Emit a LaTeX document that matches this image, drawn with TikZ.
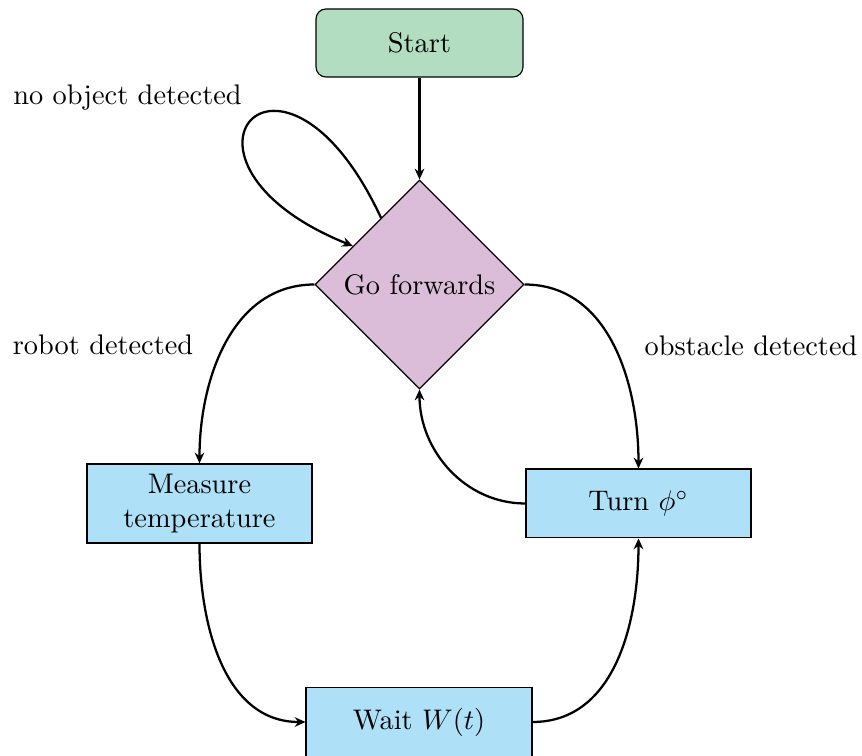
\documentclass[tikz,border=0pt]{standalone}
\usetikzlibrary{shapes.geometric,arrows.meta}
\definecolor{startgreen}{RGB}{179,221,193}
\definecolor{decpurple}{RGB}{220,189,217}
\definecolor{procblue}{RGB}{174,224,248}
\begin{document}
\begin{tikzpicture}[x=0.3528pt,y=0.3528pt,
  startbox/.style={draw=black,fill=startgreen,rounded corners=3.5pt,minimum width=73pt,minimum height=24pt,inner sep=0pt},
  decbox/.style={draw=black,fill=decpurple,diamond,minimum width=73.7pt,minimum height=73.7pt,inner sep=0pt},
  procbox/.style={draw=black,fill=procblue,minimum width=79.4pt,minimum height=24.3pt,inner sep=0pt,align=center},
  conn/.style={thick,-{Stealth[length=3.8pt,width=3.4pt]}},
  lbl/.style={inner sep=0pt}]
\useasboundingbox (0,0) rectangle (862,756);
\node[startbox] (start) at (419.5,713) {Start};
\node[decbox] (go) at (419.5,471.5) {Go forwards};
\node[procbox,minimum height=27.9pt] (meas) at (199.5,252.5) {Measure\\temperature};
\node[procbox] (turn) at (638.5,252.5) {Turn $\phi^\circ$};
\node[procbox,minimum width=79.7pt] (wait) at (419,34) {Wait $W(t)$};
\node[lbl] (l1) at (127.5,658) {no object detected};
\node[lbl] (l2) at (103,411) {robot detected};
\node[lbl] (l3) at (751,410) {obstacle detected};
\draw[conn] (start) -- (go);
\draw[conn] (go.120) .. controls +(115:235) and +(158:225) .. (go.150);
\draw[conn] (go.west) to[out=180,in=90] (meas.north);
\draw[conn] (go.east) to[out=0,in=90] (turn.north);
\draw[conn] (turn.west) to[out=180,in=-90] (go.south);
\draw[conn] (meas.south) to[out=-90,in=180] (wait.west);
\draw[conn] (wait.east) to[out=0,in=-90] (turn.south);
\end{tikzpicture}
\end{document}
